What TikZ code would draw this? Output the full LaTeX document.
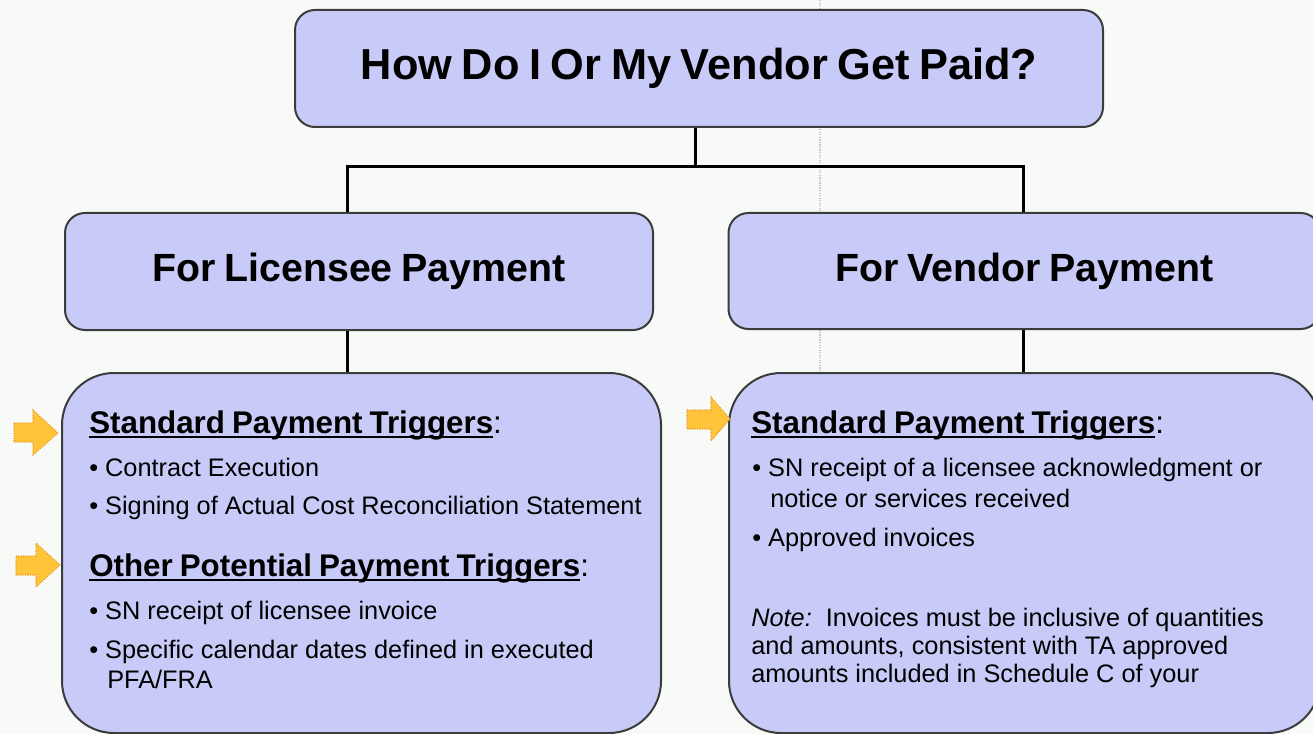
\documentclass[tikz,border=0pt]{standalone}
\usepackage{fontspec}
\setmainfont{Liberation Sans}
\newfontfamily\hdfont[WordSpace=0.6]{Liberation Sans}
\newfontfamily\ttlfont[WordSpace=0.8]{Liberation Sans}
\definecolor{bgc}{RGB}{247,250,246}
\definecolor{boxc}{RGB}{200,203,248}
\definecolor{edgec}{RGB}{60,60,60}
\definecolor{arrc}{RGB}{255,196,58}
\definecolor{arre}{RGB}{236,150,36}
\newcommand\myul[1]{\setbox0=\hbox{#1}\rlap{\rule[-4pt]{\wd0}{2pt}}\box0}
\newcommand\bodyfont{\fontsize{19}{23}\selectfont}
\tikzset{
  box/.style={draw=edgec, fill=boxc, line width=1.5pt, rounded corners=15pt, inner sep=0pt, align=center},
  bigbox/.style={box, rounded corners=39pt},
  conn/.style={line width=2.25pt, draw=black},
  txt/.style={anchor=base west, inner sep=0pt, font=\bodyfont},
  head/.style={anchor=base west, inner sep=0pt, font=\hdfont\fontsize{23.5}{28}\selectfont},
  pointer/.style={fill=arrc, draw=arre, densely dotted, line width=0.8pt},
}
\begin{document}
\begin{tikzpicture}[x=0.75pt, y=-0.75pt]
\fill[bgc] (0,0) rectangle (1313,734);
\useasboundingbox (0,0) rectangle (1313,734);
\clip (0,0) rectangle (1313,734);
\draw[gray!45, densely dotted, line width=0.9pt] (820,0) -- (820,734);

% boxes
\node[box, minimum width=606pt, minimum height=87.75pt,
      font=\ttlfont\bfseries\fontsize{32.5}{38}\selectfont] (title) at (699,68.5) {How Do I Or My Vendor Get Paid?};
\node[box, minimum width=441pt, minimum height=87.75pt,
      font=\ttlfont\bfseries\fontsize{29.5}{36}\selectfont] (ml) at (359,271.5) {For Licensee Payment};
\node[box, minimum width=444pt, minimum height=87pt,
      font=\ttlfont\bfseries\fontsize{29.5}{36}\selectfont] (mr) at (1024.5,271) {For Vendor Payment};
\node[bigbox, minimum width=449.25pt, minimum height=270pt] (bl) at (361.5,553) {};
\node[bigbox, minimum width=443.25pt, minimum height=270pt] (br) at (1024.5,553) {};

% connectors
\coordinate (j) at (695,167);
\coordinate (jl) at (347,167);
\coordinate (jr) at (1023,167);
\draw[conn] (title.south -| j) -- (j);
\draw[conn] (jl |- ml.north) -- (jl) -- (jr) -- (jr |- mr.north);
\draw[conn] (ml.south -| jl) -- (jl |- bl.north);
\draw[conn] (mr.south -| jr) -- (jr |- br.north);

% left texts
\node[head] (lh1) at (89,433) {\myul{\bfseries Standard Payment Triggers}:};
\node[txt] (l1) at (89,476) {\textbullet\ Contract Execution};
\node[txt] (l2) at (89,514) {\textbullet\ Signing of Actual Cost Reconciliation Statement};
\node[head] (lh2) at (89,576) {\myul{\bfseries Other Potential Payment Triggers}:};
\node[txt] (l3) at (89,619) {\textbullet\ SN receipt of licensee invoice};
\node[txt] (l4) at (89,658) {\textbullet\ Specific calendar dates defined in executed};
\node[txt] (l5) at (107,688) {PFA/FRA};

% right texts
\node[head] (rh1) at (751,433) {\myul{\bfseries Standard Payment Triggers}:};
\node[txt] (r1) at (752,476) {\textbullet\ SN receipt of a licensee acknowledgment or};
\node[txt] (r2) at (770,507) {notice or services received};
\node[txt] (r3) at (752,546) {\textbullet\ Approved invoices};
\node[txt] (r4) at (751,626) {\textit{Note:}\ \ Invoices must be inclusive of quantities};
\node[txt] (r5) at (751,654) {and amounts, consistent with TA approved};
\node[txt] (r6) at (751,682) {amounts included in Schedule C of your};

% pointer arrows
\draw[pointer] (14,423) -- (33,423) -- (33,410) -- (58,433) -- (33,455) -- (33,442) -- (14,442) -- cycle;
\draw[pointer] (16,556) -- (36,556) -- (36,543) -- (60,565) -- (36,587) -- (36,575) -- (16,575) -- cycle;
\draw[pointer] (687,410) -- (711,410) -- (711,397) -- (730,419) -- (711,441) -- (711,429) -- (687,429) -- cycle;
\end{tikzpicture}
\end{document}
